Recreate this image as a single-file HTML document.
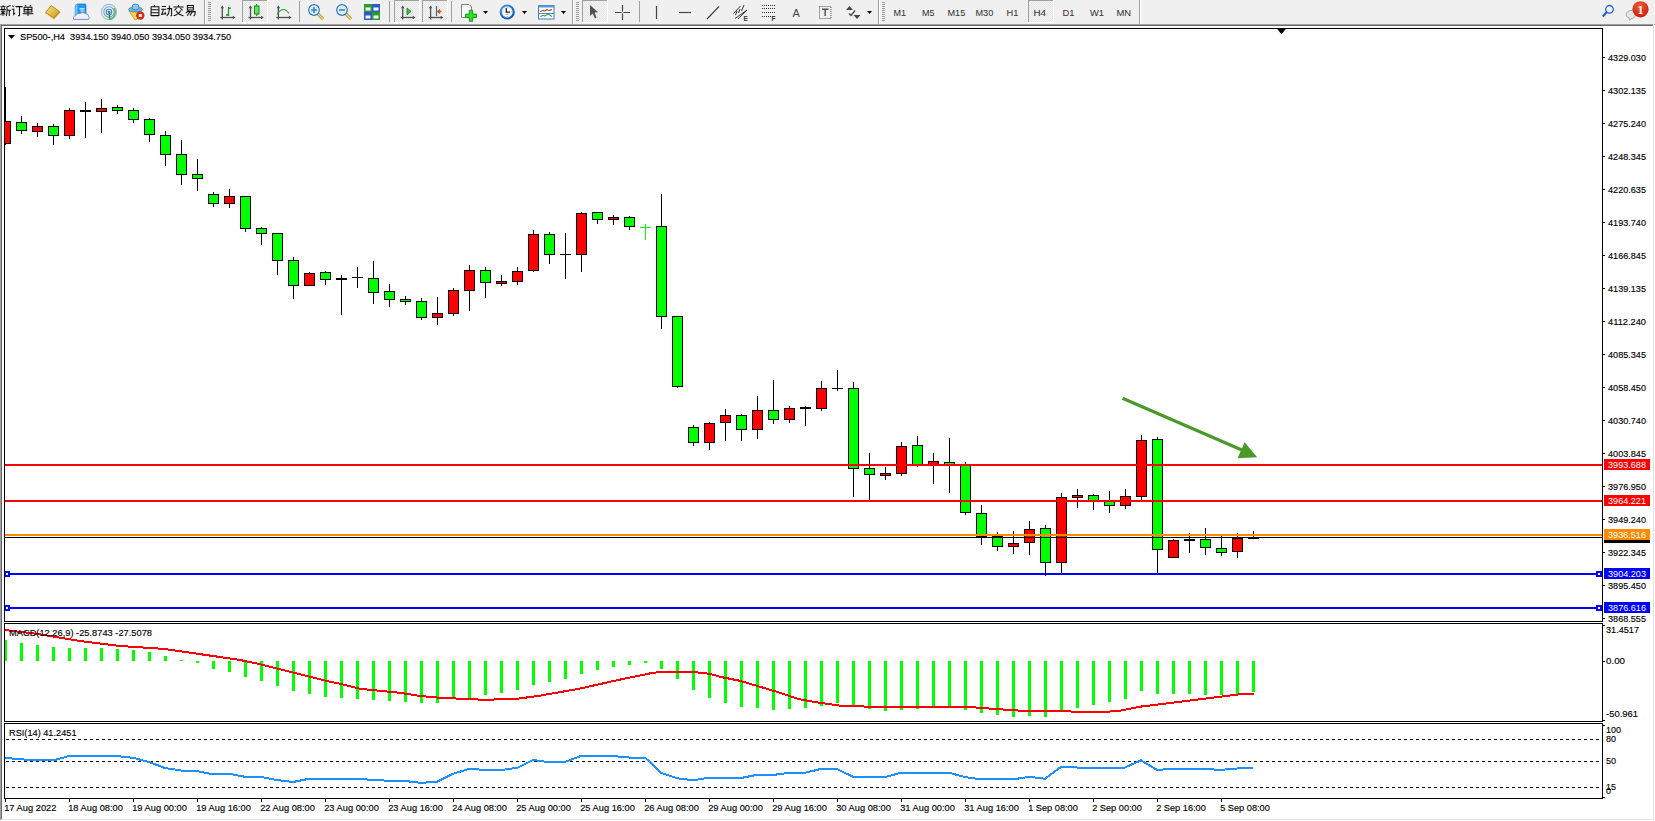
<!DOCTYPE html>
<html><head><meta charset="utf-8"><style>
html,body{margin:0;padding:0;width:1655px;height:821px;overflow:hidden;background:#f0f0f0;font-family:"Liberation Sans",sans-serif;}
#tb{position:absolute;left:0;top:0;width:1655px;height:24px;background:#f0f0f0;}
</style></head><body>
<svg width="1655" height="821" viewBox="0 0 1655 821" style="position:absolute;left:0;top:0" shape-rendering="crispEdges" font-family="Liberation Sans, sans-serif">
<defs><clipPath id="cm"><rect x="5" y="29" width="1597" height="592"/></clipPath><clipPath id="cmacd"><rect x="5" y="624" width="1597" height="97"/></clipPath><clipPath id="crsi"><rect x="5" y="724" width="1597" height="74"/></clipPath></defs>
<rect x="0" y="24" width="1655" height="797" fill="#fff"/>
<rect x="0" y="24" width="1655" height="1" fill="#a0a0a0"/><rect x="1" y="25" width="1652" height="1" fill="#696969"/>
<rect x="0" y="24" width="1" height="796" fill="#a0a0a0"/><rect x="1" y="25" width="1" height="794" fill="#696969"/>
<rect x="1653" y="24" width="1" height="796" fill="#e3e3e3"/><rect x="1" y="819" width="1653" height="1" fill="#e3e3e3"/>
<rect x="4.5" y="28.5" width="1598" height="593" fill="none" stroke="#000" stroke-width="1"/>
<rect x="4.5" y="623.5" width="1598" height="98" fill="none" stroke="#000" stroke-width="1"/>
<rect x="4.5" y="723.5" width="1598" height="75" fill="none" stroke="#000" stroke-width="1"/>
<rect x="1603" y="57" width="2" height="1" fill="#000"/>
<text x="1608" y="61" font-size="9.8" fill="#000" stroke="#000" stroke-width="0.15" text-anchor="start" textLength="38" lengthAdjust="spacingAndGlyphs">4329.030</text>
<rect x="1603" y="90" width="2" height="1" fill="#000"/>
<text x="1608" y="94" font-size="9.8" fill="#000" stroke="#000" stroke-width="0.15" text-anchor="start" textLength="38" lengthAdjust="spacingAndGlyphs">4302.135</text>
<rect x="1603" y="123" width="2" height="1" fill="#000"/>
<text x="1608" y="127" font-size="9.8" fill="#000" stroke="#000" stroke-width="0.15" text-anchor="start" textLength="38" lengthAdjust="spacingAndGlyphs">4275.240</text>
<rect x="1603" y="156" width="2" height="1" fill="#000"/>
<text x="1608" y="160" font-size="9.8" fill="#000" stroke="#000" stroke-width="0.15" text-anchor="start" textLength="38" lengthAdjust="spacingAndGlyphs">4248.345</text>
<rect x="1603" y="189" width="2" height="1" fill="#000"/>
<text x="1608" y="193" font-size="9.8" fill="#000" stroke="#000" stroke-width="0.15" text-anchor="start" textLength="38" lengthAdjust="spacingAndGlyphs">4220.635</text>
<rect x="1603" y="222" width="2" height="1" fill="#000"/>
<text x="1608" y="226" font-size="9.8" fill="#000" stroke="#000" stroke-width="0.15" text-anchor="start" textLength="38" lengthAdjust="spacingAndGlyphs">4193.740</text>
<rect x="1603" y="255" width="2" height="1" fill="#000"/>
<text x="1608" y="259" font-size="9.8" fill="#000" stroke="#000" stroke-width="0.15" text-anchor="start" textLength="38" lengthAdjust="spacingAndGlyphs">4166.845</text>
<rect x="1603" y="288" width="2" height="1" fill="#000"/>
<text x="1608" y="292" font-size="9.8" fill="#000" stroke="#000" stroke-width="0.15" text-anchor="start" textLength="38" lengthAdjust="spacingAndGlyphs">4139.135</text>
<rect x="1603" y="321" width="2" height="1" fill="#000"/>
<text x="1608" y="325" font-size="9.8" fill="#000" stroke="#000" stroke-width="0.15" text-anchor="start" textLength="38" lengthAdjust="spacingAndGlyphs">4112.240</text>
<rect x="1603" y="354" width="2" height="1" fill="#000"/>
<text x="1608" y="358" font-size="9.8" fill="#000" stroke="#000" stroke-width="0.15" text-anchor="start" textLength="38" lengthAdjust="spacingAndGlyphs">4085.345</text>
<rect x="1603" y="387" width="2" height="1" fill="#000"/>
<text x="1608" y="391" font-size="9.8" fill="#000" stroke="#000" stroke-width="0.15" text-anchor="start" textLength="38" lengthAdjust="spacingAndGlyphs">4058.450</text>
<rect x="1603" y="420" width="2" height="1" fill="#000"/>
<text x="1608" y="424" font-size="9.8" fill="#000" stroke="#000" stroke-width="0.15" text-anchor="start" textLength="38" lengthAdjust="spacingAndGlyphs">4030.740</text>
<rect x="1603" y="453" width="2" height="1" fill="#000"/>
<text x="1608" y="457" font-size="9.8" fill="#000" stroke="#000" stroke-width="0.15" text-anchor="start" textLength="38" lengthAdjust="spacingAndGlyphs">4003.845</text>
<rect x="1603" y="486" width="2" height="1" fill="#000"/>
<text x="1608" y="490" font-size="9.8" fill="#000" stroke="#000" stroke-width="0.15" text-anchor="start" textLength="38" lengthAdjust="spacingAndGlyphs">3976.950</text>
<rect x="1603" y="519" width="2" height="1" fill="#000"/>
<text x="1608" y="523" font-size="9.8" fill="#000" stroke="#000" stroke-width="0.15" text-anchor="start" textLength="38" lengthAdjust="spacingAndGlyphs">3949.240</text>
<rect x="1603" y="552" width="2" height="1" fill="#000"/>
<text x="1608" y="556" font-size="9.8" fill="#000" stroke="#000" stroke-width="0.15" text-anchor="start" textLength="38" lengthAdjust="spacingAndGlyphs">3922.345</text>
<rect x="1603" y="585" width="2" height="1" fill="#000"/>
<text x="1608" y="589" font-size="9.8" fill="#000" stroke="#000" stroke-width="0.15" text-anchor="start" textLength="38" lengthAdjust="spacingAndGlyphs">3895.450</text>
<rect x="1603" y="618" width="2" height="1" fill="#000"/>
<text x="1608" y="622" font-size="9.8" fill="#000" stroke="#000" stroke-width="0.15" text-anchor="start" textLength="38" lengthAdjust="spacingAndGlyphs">3868.555</text>
<rect x="1603" y="625" width="2" height="1" fill="#000"/>
<rect x="1603" y="661" width="2" height="1" fill="#000"/>
<rect x="1603" y="720" width="2" height="1" fill="#000"/>
<text x="1606" y="633.2" font-size="9.8" fill="#000" stroke="#000" stroke-width="0.15" text-anchor="start" textLength="33" lengthAdjust="spacingAndGlyphs">31.4517</text>
<text x="1606" y="664.2" font-size="9.8" fill="#000" stroke="#000" stroke-width="0.15" text-anchor="start" textLength="19" lengthAdjust="spacingAndGlyphs">0.00</text>
<text x="1606" y="717.2" font-size="9.8" fill="#000" stroke="#000" stroke-width="0.15" text-anchor="start" textLength="32" lengthAdjust="spacingAndGlyphs">-50.961</text>
<rect x="1603" y="725" width="2" height="1" fill="#000"/>
<rect x="1603" y="797" width="2" height="1" fill="#000"/>
<rect x="1596" y="739" width="3" height="1" fill="#000"/>
<rect x="1596" y="761" width="3" height="1" fill="#000"/>
<rect x="1596" y="787" width="3" height="1" fill="#000"/>
<text x="1606" y="733.2" font-size="9.8" fill="#000" stroke="#000" stroke-width="0.15" text-anchor="start" textLength="15" lengthAdjust="spacingAndGlyphs">100</text>
<text x="1606" y="742.2" font-size="9.8" fill="#000" stroke="#000" stroke-width="0.15" text-anchor="start" textLength="10" lengthAdjust="spacingAndGlyphs">80</text>
<text x="1606" y="764.2" font-size="9.8" fill="#000" stroke="#000" stroke-width="0.15" text-anchor="start" textLength="10" lengthAdjust="spacingAndGlyphs">50</text>
<text x="1606" y="790.2" font-size="9.8" fill="#000" stroke="#000" stroke-width="0.15" text-anchor="start" textLength="10" lengthAdjust="spacingAndGlyphs">15</text>
<text x="1606" y="794.2" font-size="9.8" fill="#000" stroke="#000" stroke-width="0.15" text-anchor="start" textLength="5" lengthAdjust="spacingAndGlyphs">0</text>
<rect x="5" y="799" width="1" height="3" fill="#000"/>
<text x="4.2" y="811" font-size="9.8" fill="#000" stroke="#000" stroke-width="0.15" text-anchor="start" textLength="52.2" lengthAdjust="spacingAndGlyphs">17 Aug 2022</text>
<rect x="69" y="799" width="1" height="3" fill="#000"/>
<text x="68.2" y="811" font-size="9.8" fill="#000" stroke="#000" stroke-width="0.15" text-anchor="start" textLength="54.7" lengthAdjust="spacingAndGlyphs">18 Aug 08:00</text>
<rect x="133" y="799" width="1" height="3" fill="#000"/>
<text x="132.2" y="811" font-size="9.8" fill="#000" stroke="#000" stroke-width="0.15" text-anchor="start" textLength="54.7" lengthAdjust="spacingAndGlyphs">19 Aug 00:00</text>
<rect x="197" y="799" width="1" height="3" fill="#000"/>
<text x="196.2" y="811" font-size="9.8" fill="#000" stroke="#000" stroke-width="0.15" text-anchor="start" textLength="54.7" lengthAdjust="spacingAndGlyphs">19 Aug 16:00</text>
<rect x="261" y="799" width="1" height="3" fill="#000"/>
<text x="260.2" y="811" font-size="9.8" fill="#000" stroke="#000" stroke-width="0.15" text-anchor="start" textLength="54.7" lengthAdjust="spacingAndGlyphs">22 Aug 08:00</text>
<rect x="325" y="799" width="1" height="3" fill="#000"/>
<text x="324.2" y="811" font-size="9.8" fill="#000" stroke="#000" stroke-width="0.15" text-anchor="start" textLength="54.7" lengthAdjust="spacingAndGlyphs">23 Aug 00:00</text>
<rect x="389" y="799" width="1" height="3" fill="#000"/>
<text x="388.2" y="811" font-size="9.8" fill="#000" stroke="#000" stroke-width="0.15" text-anchor="start" textLength="54.7" lengthAdjust="spacingAndGlyphs">23 Aug 16:00</text>
<rect x="453" y="799" width="1" height="3" fill="#000"/>
<text x="452.2" y="811" font-size="9.8" fill="#000" stroke="#000" stroke-width="0.15" text-anchor="start" textLength="54.7" lengthAdjust="spacingAndGlyphs">24 Aug 08:00</text>
<rect x="517" y="799" width="1" height="3" fill="#000"/>
<text x="516.2" y="811" font-size="9.8" fill="#000" stroke="#000" stroke-width="0.15" text-anchor="start" textLength="54.7" lengthAdjust="spacingAndGlyphs">25 Aug 00:00</text>
<rect x="581" y="799" width="1" height="3" fill="#000"/>
<text x="580.2" y="811" font-size="9.8" fill="#000" stroke="#000" stroke-width="0.15" text-anchor="start" textLength="54.7" lengthAdjust="spacingAndGlyphs">25 Aug 16:00</text>
<rect x="645" y="799" width="1" height="3" fill="#000"/>
<text x="644.2" y="811" font-size="9.8" fill="#000" stroke="#000" stroke-width="0.15" text-anchor="start" textLength="54.7" lengthAdjust="spacingAndGlyphs">26 Aug 08:00</text>
<rect x="709" y="799" width="1" height="3" fill="#000"/>
<text x="708.2" y="811" font-size="9.8" fill="#000" stroke="#000" stroke-width="0.15" text-anchor="start" textLength="54.7" lengthAdjust="spacingAndGlyphs">29 Aug 00:00</text>
<rect x="773" y="799" width="1" height="3" fill="#000"/>
<text x="772.2" y="811" font-size="9.8" fill="#000" stroke="#000" stroke-width="0.15" text-anchor="start" textLength="54.7" lengthAdjust="spacingAndGlyphs">29 Aug 16:00</text>
<rect x="837" y="799" width="1" height="3" fill="#000"/>
<text x="836.2" y="811" font-size="9.8" fill="#000" stroke="#000" stroke-width="0.15" text-anchor="start" textLength="54.7" lengthAdjust="spacingAndGlyphs">30 Aug 08:00</text>
<rect x="901" y="799" width="1" height="3" fill="#000"/>
<text x="900.2" y="811" font-size="9.8" fill="#000" stroke="#000" stroke-width="0.15" text-anchor="start" textLength="54.7" lengthAdjust="spacingAndGlyphs">31 Aug 00:00</text>
<rect x="965" y="799" width="1" height="3" fill="#000"/>
<text x="964.2" y="811" font-size="9.8" fill="#000" stroke="#000" stroke-width="0.15" text-anchor="start" textLength="54.7" lengthAdjust="spacingAndGlyphs">31 Aug 16:00</text>
<rect x="1029" y="799" width="1" height="3" fill="#000"/>
<text x="1028.2" y="811" font-size="9.8" fill="#000" stroke="#000" stroke-width="0.15" text-anchor="start" textLength="49.6" lengthAdjust="spacingAndGlyphs">1 Sep 08:00</text>
<rect x="1093" y="799" width="1" height="3" fill="#000"/>
<text x="1092.2" y="811" font-size="9.8" fill="#000" stroke="#000" stroke-width="0.15" text-anchor="start" textLength="49.6" lengthAdjust="spacingAndGlyphs">2 Sep 00:00</text>
<rect x="1157" y="799" width="1" height="3" fill="#000"/>
<text x="1156.2" y="811" font-size="9.8" fill="#000" stroke="#000" stroke-width="0.15" text-anchor="start" textLength="49.6" lengthAdjust="spacingAndGlyphs">2 Sep 16:00</text>
<rect x="1221" y="799" width="1" height="3" fill="#000"/>
<text x="1220.2" y="811" font-size="9.8" fill="#000" stroke="#000" stroke-width="0.15" text-anchor="start" textLength="49.6" lengthAdjust="spacingAndGlyphs">5 Sep 08:00</text>
<g clip-path="url(#cm)">
<rect x="5" y="87" width="1" height="58" fill="#000"/>
<rect x="0" y="121" width="11" height="23" fill="#000"/>
<rect x="1" y="122" width="9" height="21" fill="#ff0000"/>
<rect x="21" y="116" width="1" height="18" fill="#000"/>
<rect x="16" y="122" width="11" height="9" fill="#000"/>
<rect x="17" y="123" width="9" height="7" fill="#00ff00"/>
<rect x="37" y="123" width="1" height="14" fill="#000"/>
<rect x="32" y="126" width="11" height="6" fill="#000"/>
<rect x="33" y="127" width="9" height="4" fill="#ff0000"/>
<rect x="53" y="124" width="1" height="21" fill="#000"/>
<rect x="48" y="126" width="11" height="10" fill="#000"/>
<rect x="49" y="127" width="9" height="8" fill="#00ff00"/>
<rect x="69" y="108" width="1" height="31" fill="#000"/>
<rect x="64" y="110" width="11" height="26" fill="#000"/>
<rect x="65" y="111" width="9" height="24" fill="#ff0000"/>
<rect x="85" y="102" width="1" height="36" fill="#000"/>
<rect x="80" y="110" width="11" height="2" fill="#000"/>
<rect x="101" y="99" width="1" height="34" fill="#000"/>
<rect x="96" y="108" width="11" height="4" fill="#000"/>
<rect x="97" y="109" width="9" height="2" fill="#ff0000"/>
<rect x="117" y="105" width="1" height="9" fill="#000"/>
<rect x="112" y="107" width="11" height="4" fill="#000"/>
<rect x="113" y="108" width="9" height="2" fill="#00ff00"/>
<rect x="133" y="108" width="1" height="15" fill="#000"/>
<rect x="128" y="110" width="11" height="10" fill="#000"/>
<rect x="129" y="111" width="9" height="8" fill="#00ff00"/>
<rect x="149" y="118" width="1" height="24" fill="#000"/>
<rect x="144" y="119" width="11" height="16" fill="#000"/>
<rect x="145" y="120" width="9" height="14" fill="#00ff00"/>
<rect x="165" y="131" width="1" height="35" fill="#000"/>
<rect x="160" y="135" width="11" height="20" fill="#000"/>
<rect x="161" y="136" width="9" height="18" fill="#00ff00"/>
<rect x="181" y="140" width="1" height="45" fill="#000"/>
<rect x="176" y="154" width="11" height="21" fill="#000"/>
<rect x="177" y="155" width="9" height="19" fill="#00ff00"/>
<rect x="197" y="159" width="1" height="32" fill="#000"/>
<rect x="192" y="174" width="11" height="5" fill="#000"/>
<rect x="193" y="175" width="9" height="3" fill="#00ff00"/>
<rect x="213" y="192" width="1" height="15" fill="#000"/>
<rect x="208" y="194" width="11" height="10" fill="#000"/>
<rect x="209" y="195" width="9" height="8" fill="#00ff00"/>
<rect x="229" y="189" width="1" height="19" fill="#000"/>
<rect x="224" y="196" width="11" height="8" fill="#000"/>
<rect x="225" y="197" width="9" height="6" fill="#ff0000"/>
<rect x="245" y="196" width="1" height="36" fill="#000"/>
<rect x="240" y="196" width="11" height="33" fill="#000"/>
<rect x="241" y="197" width="9" height="31" fill="#00ff00"/>
<rect x="261" y="227" width="1" height="18" fill="#000"/>
<rect x="256" y="228" width="11" height="6" fill="#000"/>
<rect x="257" y="229" width="9" height="4" fill="#00ff00"/>
<rect x="277" y="233" width="1" height="42" fill="#000"/>
<rect x="272" y="233" width="11" height="28" fill="#000"/>
<rect x="273" y="234" width="9" height="26" fill="#00ff00"/>
<rect x="293" y="257" width="1" height="42" fill="#000"/>
<rect x="288" y="260" width="11" height="26" fill="#000"/>
<rect x="289" y="261" width="9" height="24" fill="#00ff00"/>
<rect x="309" y="272" width="1" height="14" fill="#000"/>
<rect x="304" y="273" width="11" height="13" fill="#000"/>
<rect x="305" y="274" width="9" height="11" fill="#ff0000"/>
<rect x="325" y="271" width="1" height="14" fill="#000"/>
<rect x="320" y="272" width="11" height="8" fill="#000"/>
<rect x="321" y="273" width="9" height="6" fill="#00ff00"/>
<rect x="341" y="275" width="1" height="40" fill="#000"/>
<rect x="336" y="278" width="11" height="2" fill="#000"/>
<rect x="357" y="267" width="1" height="21" fill="#000"/>
<rect x="352" y="277" width="11" height="1" fill="#000"/>
<rect x="373" y="261" width="1" height="43" fill="#000"/>
<rect x="368" y="278" width="11" height="15" fill="#000"/>
<rect x="369" y="279" width="9" height="13" fill="#00ff00"/>
<rect x="389" y="284" width="1" height="23" fill="#000"/>
<rect x="384" y="291" width="11" height="9" fill="#000"/>
<rect x="385" y="292" width="9" height="7" fill="#00ff00"/>
<rect x="405" y="296" width="1" height="9" fill="#000"/>
<rect x="400" y="299" width="11" height="3" fill="#000"/>
<rect x="401" y="300" width="9" height="1" fill="#00ff00"/>
<rect x="421" y="298" width="1" height="22" fill="#000"/>
<rect x="416" y="301" width="11" height="17" fill="#000"/>
<rect x="417" y="302" width="9" height="15" fill="#00ff00"/>
<rect x="437" y="297" width="1" height="28" fill="#000"/>
<rect x="432" y="313" width="11" height="5" fill="#000"/>
<rect x="433" y="314" width="9" height="3" fill="#ff0000"/>
<rect x="453" y="288" width="1" height="28" fill="#000"/>
<rect x="448" y="290" width="11" height="24" fill="#000"/>
<rect x="449" y="291" width="9" height="22" fill="#ff0000"/>
<rect x="469" y="265" width="1" height="46" fill="#000"/>
<rect x="464" y="270" width="11" height="21" fill="#000"/>
<rect x="465" y="271" width="9" height="19" fill="#ff0000"/>
<rect x="485" y="267" width="1" height="31" fill="#000"/>
<rect x="480" y="270" width="11" height="13" fill="#000"/>
<rect x="481" y="271" width="9" height="11" fill="#00ff00"/>
<rect x="501" y="275" width="1" height="11" fill="#000"/>
<rect x="496" y="281" width="11" height="3" fill="#000"/>
<rect x="497" y="282" width="9" height="1" fill="#ff0000"/>
<rect x="517" y="267" width="1" height="18" fill="#000"/>
<rect x="512" y="271" width="11" height="11" fill="#000"/>
<rect x="513" y="272" width="9" height="9" fill="#ff0000"/>
<rect x="533" y="230" width="1" height="42" fill="#000"/>
<rect x="528" y="234" width="11" height="37" fill="#000"/>
<rect x="529" y="235" width="9" height="35" fill="#ff0000"/>
<rect x="549" y="232" width="1" height="32" fill="#000"/>
<rect x="544" y="234" width="11" height="21" fill="#000"/>
<rect x="545" y="235" width="9" height="19" fill="#00ff00"/>
<rect x="565" y="233" width="1" height="46" fill="#000"/>
<rect x="560" y="254" width="11" height="1" fill="#000"/>
<rect x="581" y="212" width="1" height="60" fill="#000"/>
<rect x="576" y="213" width="11" height="42" fill="#000"/>
<rect x="577" y="214" width="9" height="40" fill="#ff0000"/>
<rect x="597" y="212" width="1" height="12" fill="#000"/>
<rect x="592" y="212" width="11" height="8" fill="#000"/>
<rect x="593" y="213" width="9" height="6" fill="#00ff00"/>
<rect x="613" y="215" width="1" height="10" fill="#000"/>
<rect x="608" y="217" width="11" height="3" fill="#000"/>
<rect x="609" y="218" width="9" height="1" fill="#ff0000"/>
<rect x="629" y="216" width="1" height="14" fill="#000"/>
<rect x="624" y="217" width="11" height="10" fill="#000"/>
<rect x="625" y="218" width="9" height="8" fill="#00ff00"/>
<rect x="645" y="224" width="1" height="16" fill="#00ff00"/>
<rect x="640" y="227" width="11" height="1" fill="#00ff00"/>
<rect x="661" y="194" width="1" height="135" fill="#000"/>
<rect x="656" y="226" width="11" height="91" fill="#000"/>
<rect x="657" y="227" width="9" height="89" fill="#00ff00"/>
<rect x="677" y="316" width="1" height="72" fill="#000"/>
<rect x="672" y="316" width="11" height="71" fill="#000"/>
<rect x="673" y="317" width="9" height="69" fill="#00ff00"/>
<rect x="693" y="425" width="1" height="21" fill="#000"/>
<rect x="688" y="427" width="11" height="16" fill="#000"/>
<rect x="689" y="428" width="9" height="14" fill="#00ff00"/>
<rect x="709" y="422" width="1" height="28" fill="#000"/>
<rect x="704" y="423" width="11" height="20" fill="#000"/>
<rect x="705" y="424" width="9" height="18" fill="#ff0000"/>
<rect x="725" y="409" width="1" height="32" fill="#000"/>
<rect x="720" y="415" width="11" height="8" fill="#000"/>
<rect x="721" y="416" width="9" height="6" fill="#ff0000"/>
<rect x="741" y="414" width="1" height="27" fill="#000"/>
<rect x="736" y="415" width="11" height="15" fill="#000"/>
<rect x="737" y="416" width="9" height="13" fill="#00ff00"/>
<rect x="757" y="396" width="1" height="43" fill="#000"/>
<rect x="752" y="410" width="11" height="20" fill="#000"/>
<rect x="753" y="411" width="9" height="18" fill="#ff0000"/>
<rect x="773" y="380" width="1" height="44" fill="#000"/>
<rect x="768" y="410" width="11" height="10" fill="#000"/>
<rect x="769" y="411" width="9" height="8" fill="#00ff00"/>
<rect x="789" y="406" width="1" height="17" fill="#000"/>
<rect x="784" y="408" width="11" height="12" fill="#000"/>
<rect x="785" y="409" width="9" height="10" fill="#ff0000"/>
<rect x="805" y="406" width="1" height="20" fill="#000"/>
<rect x="800" y="407" width="11" height="2" fill="#000"/>
<rect x="821" y="381" width="1" height="30" fill="#000"/>
<rect x="816" y="388" width="11" height="21" fill="#000"/>
<rect x="817" y="389" width="9" height="19" fill="#ff0000"/>
<rect x="837" y="370" width="1" height="21" fill="#000"/>
<rect x="832" y="388" width="11" height="1" fill="#000"/>
<rect x="853" y="382" width="1" height="115" fill="#000"/>
<rect x="848" y="388" width="11" height="81" fill="#000"/>
<rect x="849" y="389" width="9" height="79" fill="#00ff00"/>
<rect x="869" y="453" width="1" height="47" fill="#000"/>
<rect x="864" y="468" width="11" height="7" fill="#000"/>
<rect x="865" y="469" width="9" height="5" fill="#00ff00"/>
<rect x="885" y="467" width="1" height="13" fill="#000"/>
<rect x="880" y="473" width="11" height="3" fill="#000"/>
<rect x="881" y="474" width="9" height="1" fill="#ff0000"/>
<rect x="901" y="442" width="1" height="34" fill="#000"/>
<rect x="896" y="446" width="11" height="28" fill="#000"/>
<rect x="897" y="447" width="9" height="26" fill="#ff0000"/>
<rect x="917" y="436" width="1" height="31" fill="#000"/>
<rect x="912" y="445" width="11" height="20" fill="#000"/>
<rect x="913" y="446" width="9" height="18" fill="#00ff00"/>
<rect x="933" y="453" width="1" height="31" fill="#000"/>
<rect x="928" y="461" width="11" height="5" fill="#000"/>
<rect x="929" y="462" width="9" height="3" fill="#ff0000"/>
<rect x="949" y="438" width="1" height="55" fill="#000"/>
<rect x="944" y="462" width="11" height="3" fill="#000"/>
<rect x="945" y="463" width="9" height="1" fill="#00ff00"/>
<rect x="965" y="462" width="1" height="53" fill="#000"/>
<rect x="960" y="464" width="11" height="49" fill="#000"/>
<rect x="961" y="465" width="9" height="47" fill="#00ff00"/>
<rect x="981" y="505" width="1" height="40" fill="#000"/>
<rect x="976" y="513" width="11" height="24" fill="#000"/>
<rect x="977" y="514" width="9" height="22" fill="#00ff00"/>
<rect x="997" y="532" width="1" height="19" fill="#000"/>
<rect x="992" y="536" width="11" height="11" fill="#000"/>
<rect x="993" y="537" width="9" height="9" fill="#00ff00"/>
<rect x="1013" y="531" width="1" height="23" fill="#000"/>
<rect x="1008" y="543" width="11" height="4" fill="#000"/>
<rect x="1009" y="544" width="9" height="2" fill="#ff0000"/>
<rect x="1029" y="521" width="1" height="34" fill="#000"/>
<rect x="1024" y="529" width="11" height="14" fill="#000"/>
<rect x="1025" y="530" width="9" height="12" fill="#ff0000"/>
<rect x="1045" y="525" width="1" height="51" fill="#000"/>
<rect x="1040" y="528" width="11" height="35" fill="#000"/>
<rect x="1041" y="529" width="9" height="33" fill="#00ff00"/>
<rect x="1061" y="493" width="1" height="81" fill="#000"/>
<rect x="1056" y="497" width="11" height="66" fill="#000"/>
<rect x="1057" y="498" width="9" height="64" fill="#ff0000"/>
<rect x="1077" y="489" width="1" height="19" fill="#000"/>
<rect x="1072" y="495" width="11" height="3" fill="#000"/>
<rect x="1073" y="496" width="9" height="1" fill="#ff0000"/>
<rect x="1093" y="494" width="1" height="16" fill="#000"/>
<rect x="1088" y="495" width="11" height="6" fill="#000"/>
<rect x="1089" y="496" width="9" height="4" fill="#00ff00"/>
<rect x="1109" y="491" width="1" height="22" fill="#000"/>
<rect x="1104" y="501" width="11" height="5" fill="#000"/>
<rect x="1105" y="502" width="9" height="3" fill="#00ff00"/>
<rect x="1125" y="489" width="1" height="20" fill="#000"/>
<rect x="1120" y="496" width="11" height="10" fill="#000"/>
<rect x="1121" y="497" width="9" height="8" fill="#ff0000"/>
<rect x="1141" y="435" width="1" height="65" fill="#000"/>
<rect x="1136" y="440" width="11" height="57" fill="#000"/>
<rect x="1137" y="441" width="9" height="55" fill="#ff0000"/>
<rect x="1157" y="437" width="1" height="137" fill="#000"/>
<rect x="1152" y="439" width="11" height="111" fill="#000"/>
<rect x="1153" y="440" width="9" height="109" fill="#00ff00"/>
<rect x="1173" y="539" width="1" height="19" fill="#000"/>
<rect x="1168" y="540" width="11" height="18" fill="#000"/>
<rect x="1169" y="541" width="9" height="16" fill="#ff0000"/>
<rect x="1189" y="533" width="1" height="20" fill="#000"/>
<rect x="1184" y="539" width="11" height="2" fill="#000"/>
<rect x="1205" y="528" width="1" height="27" fill="#000"/>
<rect x="1200" y="539" width="11" height="9" fill="#000"/>
<rect x="1201" y="540" width="9" height="7" fill="#00ff00"/>
<rect x="1221" y="536" width="1" height="20" fill="#000"/>
<rect x="1216" y="548" width="11" height="5" fill="#000"/>
<rect x="1217" y="549" width="9" height="3" fill="#00ff00"/>
<rect x="1237" y="533" width="1" height="25" fill="#000"/>
<rect x="1232" y="538" width="11" height="14" fill="#000"/>
<rect x="1233" y="539" width="9" height="12" fill="#ff0000"/>
<rect x="1253" y="531" width="1" height="8" fill="#000"/>
<rect x="1248" y="538" width="11" height="1" fill="#000"/>
</g>
<rect x="5" y="464" width="1597" height="2" fill="#ff0000"/>
<rect x="5" y="500" width="1597" height="2" fill="#ff0000"/>
<rect x="5" y="537" width="1597" height="1" fill="#000"/>
<rect x="5" y="534" width="1597" height="2" fill="#ff8c00"/>
<rect x="5" y="573" width="1597" height="2" fill="#0000ff"/>
<rect x="5" y="607" width="1597" height="2" fill="#0000ff"/>
<rect x="5" y="571" width="5" height="6" fill="#0000ff"/><rect x="6" y="573" width="2" height="2" fill="#fff"/>
<rect x="1596" y="571" width="6" height="6" fill="#0000ff"/><rect x="1598" y="573" width="2" height="2" fill="#fff"/>
<rect x="5" y="605" width="5" height="6" fill="#0000ff"/><rect x="6" y="607" width="2" height="2" fill="#fff"/>
<rect x="1596" y="605" width="6" height="6" fill="#0000ff"/><rect x="1598" y="607" width="2" height="2" fill="#fff"/>
<rect x="1604" y="532" width="46" height="11" fill="#000"/>
<rect x="1604" y="459" width="46" height="11" fill="#ff0000"/>
<text x="1608" y="467.5" font-size="9.8" fill="#fff" text-anchor="start" textLength="38" lengthAdjust="spacingAndGlyphs">3993.688</text>
<rect x="1604" y="495" width="46" height="11" fill="#ff0000"/>
<text x="1608" y="503.5" font-size="9.8" fill="#fff" text-anchor="start" textLength="38" lengthAdjust="spacingAndGlyphs">3964.221</text>
<rect x="1604" y="529" width="46" height="11" fill="#ff8c00"/>
<text x="1608" y="537.5" font-size="9.8" fill="#fff" text-anchor="start" textLength="38" lengthAdjust="spacingAndGlyphs">3936.516</text>
<rect x="1604" y="568" width="46" height="11" fill="#0000ff"/>
<text x="1608" y="576.5" font-size="9.8" fill="#fff" text-anchor="start" textLength="38" lengthAdjust="spacingAndGlyphs">3904.203</text>
<rect x="1604" y="602" width="46" height="11" fill="#0000ff"/>
<text x="1608" y="610.5" font-size="9.8" fill="#fff" text-anchor="start" textLength="38" lengthAdjust="spacingAndGlyphs">3876.616</text>
<g shape-rendering="auto"><line x1="1122.5" y1="398.2" x2="1243" y2="450.5" stroke="#4a9a2a" stroke-width="3.2"/><polygon points="1257.2,457.2 1237.6,458.2 1244.6,442.2" fill="#4a9a2a"/></g>
<polygon points="8,35 15,35 11.5,39" fill="#000" shape-rendering="auto"/>
<text x="20" y="40" font-size="9.8" fill="#000" stroke="#000" stroke-width="0.15" text-anchor="start" textLength="211.2" lengthAdjust="spacingAndGlyphs">SP500-,H4&#160;&#160;3934.150 3940.050 3934.050 3934.750</text>
<polygon points="1276.8,28.5 1286.2,28.5 1281.5,34.2" fill="#000" shape-rendering="auto"/>
<g clip-path="url(#cmacd)">
<rect x="4" y="640" width="3" height="21" fill="#00ff00"/>
<rect x="20" y="643" width="3" height="18" fill="#00ff00"/>
<rect x="36" y="645" width="3" height="16" fill="#00ff00"/>
<rect x="52" y="647" width="3" height="14" fill="#00ff00"/>
<rect x="68" y="648" width="3" height="13" fill="#00ff00"/>
<rect x="84" y="648" width="3" height="13" fill="#00ff00"/>
<rect x="100" y="648" width="3" height="13" fill="#00ff00"/>
<rect x="116" y="649" width="3" height="12" fill="#00ff00"/>
<rect x="132" y="650" width="3" height="11" fill="#00ff00"/>
<rect x="148" y="652" width="3" height="9" fill="#00ff00"/>
<rect x="164" y="656" width="3" height="5" fill="#00ff00"/>
<rect x="180" y="660" width="3" height="1" fill="#00ff00"/>
<rect x="196" y="661" width="3" height="2" fill="#00ff00"/>
<rect x="212" y="661" width="3" height="8" fill="#00ff00"/>
<rect x="228" y="661" width="3" height="11" fill="#00ff00"/>
<rect x="244" y="661" width="3" height="16" fill="#00ff00"/>
<rect x="260" y="661" width="3" height="20" fill="#00ff00"/>
<rect x="276" y="661" width="3" height="25" fill="#00ff00"/>
<rect x="292" y="661" width="3" height="30" fill="#00ff00"/>
<rect x="308" y="661" width="3" height="33" fill="#00ff00"/>
<rect x="324" y="661" width="3" height="36" fill="#00ff00"/>
<rect x="340" y="661" width="3" height="37" fill="#00ff00"/>
<rect x="356" y="661" width="3" height="38" fill="#00ff00"/>
<rect x="372" y="661" width="3" height="39" fill="#00ff00"/>
<rect x="388" y="661" width="3" height="40" fill="#00ff00"/>
<rect x="404" y="661" width="3" height="41" fill="#00ff00"/>
<rect x="420" y="661" width="3" height="42" fill="#00ff00"/>
<rect x="436" y="661" width="3" height="42" fill="#00ff00"/>
<rect x="452" y="661" width="3" height="38" fill="#00ff00"/>
<rect x="468" y="661" width="3" height="37" fill="#00ff00"/>
<rect x="484" y="661" width="3" height="34" fill="#00ff00"/>
<rect x="500" y="661" width="3" height="32" fill="#00ff00"/>
<rect x="516" y="661" width="3" height="29" fill="#00ff00"/>
<rect x="532" y="661" width="3" height="24" fill="#00ff00"/>
<rect x="548" y="661" width="3" height="21" fill="#00ff00"/>
<rect x="564" y="661" width="3" height="18" fill="#00ff00"/>
<rect x="580" y="661" width="3" height="13" fill="#00ff00"/>
<rect x="596" y="661" width="3" height="9" fill="#00ff00"/>
<rect x="612" y="661" width="3" height="6" fill="#00ff00"/>
<rect x="628" y="661" width="3" height="4" fill="#00ff00"/>
<rect x="644" y="661" width="3" height="2" fill="#00ff00"/>
<rect x="660" y="661" width="3" height="8" fill="#00ff00"/>
<rect x="676" y="661" width="3" height="18" fill="#00ff00"/>
<rect x="692" y="661" width="3" height="29" fill="#00ff00"/>
<rect x="708" y="661" width="3" height="37" fill="#00ff00"/>
<rect x="724" y="661" width="3" height="42" fill="#00ff00"/>
<rect x="740" y="661" width="3" height="46" fill="#00ff00"/>
<rect x="756" y="661" width="3" height="47" fill="#00ff00"/>
<rect x="772" y="661" width="3" height="49" fill="#00ff00"/>
<rect x="788" y="661" width="3" height="48" fill="#00ff00"/>
<rect x="804" y="661" width="3" height="47" fill="#00ff00"/>
<rect x="820" y="661" width="3" height="45" fill="#00ff00"/>
<rect x="836" y="661" width="3" height="42" fill="#00ff00"/>
<rect x="852" y="661" width="3" height="45" fill="#00ff00"/>
<rect x="868" y="661" width="3" height="48" fill="#00ff00"/>
<rect x="884" y="661" width="3" height="50" fill="#00ff00"/>
<rect x="900" y="661" width="3" height="49" fill="#00ff00"/>
<rect x="916" y="661" width="3" height="48" fill="#00ff00"/>
<rect x="932" y="661" width="3" height="46" fill="#00ff00"/>
<rect x="948" y="661" width="3" height="46" fill="#00ff00"/>
<rect x="964" y="661" width="3" height="49" fill="#00ff00"/>
<rect x="980" y="661" width="3" height="52" fill="#00ff00"/>
<rect x="996" y="661" width="3" height="54" fill="#00ff00"/>
<rect x="1012" y="661" width="3" height="56" fill="#00ff00"/>
<rect x="1028" y="661" width="3" height="55" fill="#00ff00"/>
<rect x="1044" y="661" width="3" height="56" fill="#00ff00"/>
<rect x="1060" y="661" width="3" height="50" fill="#00ff00"/>
<rect x="1076" y="661" width="3" height="47" fill="#00ff00"/>
<rect x="1092" y="661" width="3" height="44" fill="#00ff00"/>
<rect x="1108" y="661" width="3" height="41" fill="#00ff00"/>
<rect x="1124" y="661" width="3" height="38" fill="#00ff00"/>
<rect x="1140" y="661" width="3" height="30" fill="#00ff00"/>
<rect x="1156" y="661" width="3" height="33" fill="#00ff00"/>
<rect x="1172" y="661" width="3" height="33" fill="#00ff00"/>
<rect x="1188" y="661" width="3" height="33" fill="#00ff00"/>
<rect x="1204" y="661" width="3" height="34" fill="#00ff00"/>
<rect x="1220" y="661" width="3" height="34" fill="#00ff00"/>
<rect x="1236" y="661" width="3" height="33" fill="#00ff00"/>
<rect x="1252" y="661" width="3" height="31" fill="#00ff00"/>
<polyline points="5,630 38,634 80,641 120,646 150,648 165,649 190,652.7 213,656 240,660 259,664 327,681 340,683.8 360,688.8 400,692.8 420,696 440,697.8 485,699.8 517,698.8 539,695.8 579,688.8 619,679.8 650,673.4 660,672 693,672 710,673.8 720,676.8 740,680.8 760,686.8 780,692.8 800,699.4 820,702.8 840,705.7 870,706.7 965,706.7 1000,709.3 1030,711.3 1108,711.7 1120,710.7 1140,706.7 1180,701.8 1220,696.8 1240,694.2 1254,693.8" fill="none" stroke="#ff0000" stroke-width="2"/>
</g>
<text x="9" y="636" font-size="9.8" fill="#000" stroke="#000" stroke-width="0.15" text-anchor="start" textLength="143" lengthAdjust="spacingAndGlyphs">MACD(12,26,9) -25.8743 -27.5078</text>
<g clip-path="url(#crsi)">
<line x1="6" y1="739.5" x2="1601" y2="739.5" stroke="#000" stroke-width="1" stroke-dasharray="3 3"/>
<line x1="6" y1="761.5" x2="1601" y2="761.5" stroke="#000" stroke-width="1" stroke-dasharray="3 3"/>
<line x1="6" y1="787.5" x2="1601" y2="787.5" stroke="#000" stroke-width="1" stroke-dasharray="3 3"/>
<polyline points="5,757.8 21,759.4 37,760 53,760.5 69,756 85,756 101,756 117,756 133,757.8 149,762 165,768 181,770.5 197,771 213,774.4 229,773.8 245,776.8 261,777 277,780 293,782 309,778.8 325,779 341,779 357,779 373,779.8 389,780.8 405,781 421,782.8 437,781.8 453,773.8 469,768.9 485,769.9 501,770 517,767.9 533,759.9 549,762.3 565,762 581,755.9 597,756 613,756 629,757.5 645,757.5 661,772.8 677,778.2 693,780.2 709,777.8 725,778 741,778 757,774.8 773,775 789,772.8 805,772.8 821,768.9 837,769 853,776.8 869,777 885,777 901,772.8 917,773.4 933,773.4 949,772.8 965,777 981,779.4 997,779.4 1013,779.4 1029,776.8 1045,778.8 1061,766.9 1077,767.5 1093,767.5 1109,767.5 1125,767.5 1141,760.3 1157,769.9 1173,768.9 1189,769 1205,769 1221,769.9 1237,768.5 1253,767.9" fill="none" stroke="#1e90ff" stroke-width="2"/>
</g>
<text x="9" y="736" font-size="9.8" fill="#000" stroke="#000" stroke-width="0.15" text-anchor="start" textLength="67.5" lengthAdjust="spacingAndGlyphs">RSI(14) 41.2451</text>
</svg>
<div id="tb"><svg width="1655" height="24" viewBox="0 0 1655 24" style="position:absolute;left:0;top:0" font-family="Liberation Sans, sans-serif">
<defs><pattern id="chk" width="2" height="2" patternUnits="userSpaceOnUse"><rect width="2" height="2" fill="#f4f4f4"/><rect width="1" height="1" fill="#e6e6e6"/><rect x="1" y="1" width="1" height="1" fill="#e6e6e6"/></pattern><linearGradient id="gold" x1="0" y1="0" x2="1" y2="1"><stop offset="0" stop-color="#f8e27a"/><stop offset="1" stop-color="#c89a1a"/></linearGradient><radialGradient id="redb" cx="0.45" cy="0.3" r="0.7"><stop offset="0" stop-color="#f0603a"/><stop offset="1" stop-color="#cc1a08"/></radialGradient></defs>
<rect width="1655" height="24" fill="#f0f0f0"/>
<g stroke="#111" stroke-width="1.05" fill="none" transform="translate(0,5)"><path d="M3 0.3 V1.3 M0.5 1.8 H5.6 M1.5 2.6 L2 4 M4.6 2.6 L4.1 4 M0.3 4.6 H5.8 M0.8 6.7 H5.4 M3 4.6 V11 M2.8 7.6 L0.4 10 M3.3 7.8 L5.4 9.4"/><path d="M10.6 0.6 L7 1.8 V6 Q7 9 6.2 11 M7 5.2 H11 M9.3 5.2 V11"/></g>
<g stroke="#111" stroke-width="1.05" fill="none" transform="translate(11.5,5)"><path d="M0.8 0.6 L2.2 2 M0.3 4.3 H2.2 V9.5 L3.6 8.2 M4.2 1.6 H11 M8 1.6 V10.2 Q8 11 6.6 10.8"/></g>
<g stroke="#111" stroke-width="1.05" fill="none" transform="translate(22.5,5)"><path d="M2.6 0.2 L3.6 1.4 M8.4 0.2 L7.4 1.4 M1.6 2.3 H9.4 V7 H1.6 Z M1.6 4.6 H9.4 M5.5 2.3 V11 M0.2 8.8 H10.8"/></g>
<g stroke="#111" stroke-width="1.05" fill="none" transform="translate(149.5,5)"><path d="M5.2 0 L4.4 1.6 M1.6 1.8 H9.4 V11 M1.6 1.8 V11 M1.6 4.8 H9.4 M1.6 7.8 H9.4 M1.6 10.6 H9.4"/></g>
<g stroke="#111" stroke-width="1.05" fill="none" transform="translate(161,5)"><path d="M0.8 1.4 H5 M0.2 4.2 H5.4 M2.6 4.4 L0.6 9.6 L5 8.6 M3.8 7 L5 9.6"/><path d="M6.2 3.6 H10.6 V10.4 Q10.6 11 9.4 10.8 M8.4 0.4 V4.4 Q8.2 8.8 5.8 10.8"/></g>
<g stroke="#111" stroke-width="1.05" fill="none" transform="translate(173,5)"><path d="M5.5 0 V1.6 M0.4 2 H10.6 M3.6 3.2 L1.4 5.4 M7.4 3.2 L9.6 5.4 M7.8 5.6 Q5.4 9.8 0.6 10.8 M3 5.8 Q5.6 9.8 10.4 10.8"/></g>
<g stroke="#111" stroke-width="1.05" fill="none" transform="translate(185,5)"><path d="M2.4 0.4 H8.4 V5 H2.4 Z M2.4 2.7 H8.4 M3.6 5.6 L0.8 8.2 M2.8 6.6 H10.2 Q10.2 11 8.4 10.8 M5 6.8 L2.2 10.8 M7.4 6.8 L5 10.6"/></g>
<g><polygon points="45.2,13 51.2,5.2 60.4,12.6 54,19.6" fill="#c08a18"/><polygon points="45.6,12.4 51.4,5.6 59.6,11.6 53.6,18.2" fill="url(#gold)" stroke="#a87414" stroke-width="0.7"/><path d="M46.5 14 L54 19.2 L60.2 12.4" fill="none" stroke="#f0d890" stroke-width="0.8"/></g>
<g><polygon points="75.2,5.5 77.5,4 85.5,4 86,6 86,15 75.2,15" fill="#1e9af0" stroke="#1670c0" stroke-width="0.7"/><polygon points="75.2,5.5 77.5,4 77.5,15 75.2,15" fill="#6cc4f8"/><rect x="79.5" y="8.2" width="5" height="1.3" fill="#e8f4ff"/><rect x="80.5" y="10.5" width="4" height="1" fill="#e8f4ff"/><path d="M73.8 19.4 Q72.6 16 75.8 15.6 Q76.8 12.6 80.2 13.4 Q82.6 11.2 85.4 13.6 Q88.8 13.8 88.6 16.4 Q89.8 17.6 88.6 19.4 Z" fill="#eef2f8" stroke="#6a88b8" stroke-width="0.9"/></g>
<g fill="none"><circle cx="109" cy="12" r="7.6" stroke="#9cc0d8" stroke-width="1.1"/><circle cx="109" cy="12" r="5.2" stroke="#6a9ed0" stroke-width="1.1"/><circle cx="109" cy="12" r="2.8" stroke="#3f7fd0" stroke-width="1.1"/><circle cx="109" cy="12" r="1.2" fill="#2a60c0"/><path d="M114 8 A7.6 7.6 0 0 1 110 19.5" stroke="#6cb06c" stroke-width="1.4"/><path d="M109.5 12 V19.5" stroke="#2a9a2a" stroke-width="1.5"/></g>
<g><polygon points="129,11 140,10 137,19 135,20" fill="#f2d84a" stroke="#c8a020" stroke-width="0.8"/><ellipse cx="135.5" cy="9.5" rx="7" ry="2.6" fill="#6ab4e4" stroke="#3a84b4" stroke-width="0.8"/><ellipse cx="135.5" cy="7" rx="3.6" ry="3" fill="#8cc8ee" stroke="#3a84b4" stroke-width="0.8"/><circle cx="140.3" cy="15.5" r="4.2" fill="#dd2a10"/><rect x="138.8" y="14" width="3" height="3" fill="#fff"/></g>
<rect x="204" y="0" width="1" height="24" fill="#a0a0a0"/><rect x="205" y="0" width="1" height="24" fill="#ffffff"/>
<rect x="208" y="2" width="3" height="1" fill="#9a9a9a"/>
<rect x="208" y="4" width="3" height="1" fill="#9a9a9a"/>
<rect x="208" y="6" width="3" height="1" fill="#9a9a9a"/>
<rect x="208" y="8" width="3" height="1" fill="#9a9a9a"/>
<rect x="208" y="10" width="3" height="1" fill="#9a9a9a"/>
<rect x="208" y="12" width="3" height="1" fill="#9a9a9a"/>
<rect x="208" y="14" width="3" height="1" fill="#9a9a9a"/>
<rect x="208" y="16" width="3" height="1" fill="#9a9a9a"/>
<rect x="208" y="18" width="3" height="1" fill="#9a9a9a"/>
<rect x="208" y="20" width="3" height="1" fill="#9a9a9a"/>
<g stroke="#505050" stroke-width="1.3" fill="none"><path d="M222.3 19.5 V6.5"/><path d="M220.3 17.5 H233.8"/></g><g fill="#505050"><polygon points="220.5,8.2 224.10000000000002,8.2 222.3,5.5"/><polygon points="232.8,15.7 232.8,19.3 235.60000000000002,17.5"/></g>
<path d="M228.5 7 V16 M226 15 H228.5 M228.5 8.2 H231" stroke="#1a9a1a" stroke-width="1.3" fill="none"/>
<rect x="242" y="0" width="25" height="22" fill="url(#chk)"/>
<rect x="242" y="0" width="25" height="1" fill="#a0a0a0"/><rect x="242" y="0" width="1" height="22" fill="#a0a0a0"/>
<rect x="242" y="22" width="26" height="1" fill="#ffffff"/><rect x="267" y="0" width="1" height="23" fill="#ffffff"/>
<g stroke="#505050" stroke-width="1.3" fill="none"><path d="M250.5 19.5 V6.5"/><path d="M248.5 17.5 H262.0"/></g><g fill="#505050"><polygon points="248.7,8.2 252.3,8.2 250.5,5.5"/><polygon points="261.0,15.7 261.0,19.3 263.8,17.5"/></g>
<rect x="254.5" y="6" width="4.5" height="8" fill="#5ee85e" stroke="#1a8a1a" stroke-width="1"/><path d="M256.7 4 V6 M256.7 14 V16" stroke="#1a8a1a" stroke-width="1.1"/>
<g stroke="#505050" stroke-width="1.3" fill="none"><path d="M278.4 19.5 V6.5"/><path d="M276.4 17.5 H289.9"/></g><g fill="#505050"><polygon points="276.59999999999997,8.2 280.2,8.2 278.4,5.5"/><polygon points="288.9,15.7 288.9,19.3 291.7,17.5"/></g>
<path d="M277 14.5 Q283 5 289 13.5" stroke="#2a9a2a" stroke-width="1.2" fill="none"/>
<rect x="299" y="1" width="1" height="21" fill="#a0a0a0"/>
<g><path d="M317.5 13.5 L323 19" stroke="#b08a10" stroke-width="3" stroke-linecap="butt"/><path d="M317.5 13.5 L323 19" stroke="#f0dc70" stroke-width="1.4"/><circle cx="314" cy="10" r="5.3" fill="#dff0fa" stroke="#2a78c8" stroke-width="1.2"/><path d="M311 10 H317 M314 7 V13" stroke="#3a80b0" stroke-width="1.6"/></g>
<g><path d="M345.5 13.5 L351 19" stroke="#b08a10" stroke-width="3" stroke-linecap="butt"/><path d="M345.5 13.5 L351 19" stroke="#f0dc70" stroke-width="1.4"/><circle cx="342" cy="10" r="5.3" fill="#dff0fa" stroke="#2a78c8" stroke-width="1.2"/><path d="M339 10 H345" stroke="#3a80b0" stroke-width="1.6"/></g>
<g><rect x="364" y="4" width="8" height="8" fill="#2a9a2a"/><rect x="372" y="4" width="8" height="8" fill="#2a5acc"/><rect x="364" y="12" width="8" height="8" fill="#2a5acc"/><rect x="372" y="12" width="8" height="8" fill="#2a9a2a"/><g fill="#fff"><rect x="365.5" y="7.5" width="5" height="3"/><rect x="373.5" y="7.5" width="5" height="3"/><rect x="365.5" y="15.5" width="5" height="3"/><rect x="373.5" y="15.5" width="5" height="3"/></g></g>
<rect x="389" y="1" width="1" height="21" fill="#a0a0a0"/>
<rect x="394" y="0" width="25" height="22" fill="url(#chk)"/>
<rect x="394" y="0" width="25" height="1" fill="#a0a0a0"/><rect x="394" y="0" width="1" height="22" fill="#a0a0a0"/>
<rect x="394" y="22" width="26" height="1" fill="#ffffff"/><rect x="419" y="0" width="1" height="23" fill="#ffffff"/>
<g stroke="#505050" stroke-width="1.3" fill="none"><path d="M402.7 19.5 V6.5"/><path d="M400.7 17.5 H413.7"/></g><g fill="#505050"><polygon points="400.9,8.2 404.5,8.2 402.7,5.5"/><polygon points="412.7,15.7 412.7,19.3 415.5,17.5"/></g>
<polygon points="407,8 411,11.5 407,15" fill="#40c040" stroke="#1a8a1a" stroke-width="0.9"/>
<rect x="422" y="0" width="25" height="22" fill="url(#chk)"/>
<rect x="422" y="0" width="25" height="1" fill="#a0a0a0"/><rect x="422" y="0" width="1" height="22" fill="#a0a0a0"/>
<rect x="422" y="22" width="26" height="1" fill="#ffffff"/><rect x="447" y="0" width="1" height="23" fill="#ffffff"/>
<g stroke="#505050" stroke-width="1.3" fill="none"><path d="M430.6 19.5 V6.5"/><path d="M428.6 17.5 H441.6"/></g><g fill="#505050"><polygon points="428.8,8.2 432.40000000000003,8.2 430.6,5.5"/><polygon points="440.6,15.7 440.6,19.3 443.40000000000003,17.5"/></g>
<path d="M436.5 6 V16" stroke="#2070b0" stroke-width="1.2"/><path d="M441.5 11.5 H438 M440 9.5 L437.8 11.5 L440 13.5" stroke="#e05010" stroke-width="1.4" fill="none"/>
<rect x="451" y="1" width="1" height="21" fill="#a0a0a0"/>
<g><path d="M461.5 4.5 H469 L471.5 7 V17.5 H461.5 Z" fill="#fafafa" stroke="#707070" stroke-width="0.9"/><path d="M469.3 10.3 h3.4 v3.8 h3.8 v3.4 h-3.8 v3.8 h-3.4 v-3.8 h-3.8 v-3.4 h3.8 z" fill="#2ee02e" stroke="#109010" stroke-width="0.9"/></g>
<polygon points="483.0,11 488.0,11 485.5,14" fill="#000"/>
<g><defs><radialGradient id="clk" cx="0.4" cy="0.35" r="0.7"><stop offset="0" stop-color="#5ab0f8"/><stop offset="1" stop-color="#0a50b0"/></radialGradient></defs><circle cx="507.2" cy="12" r="7.6" fill="url(#clk)"/><circle cx="507.2" cy="12" r="5.4" fill="#f6f6f6"/><g fill="#999"><rect x="506.8" y="7.2" width="0.8" height="0.8"/><rect x="506.8" y="16" width="0.8" height="0.8"/><rect x="502.4" y="11.6" width="0.8" height="0.8"/><rect x="511.2" y="11.6" width="0.8" height="0.8"/></g><path d="M506.3 8 V12.2 H509.8" stroke="#111" stroke-width="1.2" fill="none"/><path d="M505.5 14.5 H508.5" stroke="#7ab0e8" stroke-width="0.8"/></g>
<polygon points="522.0,11 527.0,11 524.5,14" fill="#000"/>
<g><rect x="538.5" y="5.5" width="15.5" height="13.5" fill="#fff" stroke="#3a7ac8" stroke-width="1"/><rect x="538.5" y="5.5" width="15.5" height="2" fill="#5a9ad8"/><path d="M539 13.5 H554" stroke="#3a7ac8" stroke-width="0.9"/><path d="M540.5 11.5 L543 10.5 L545 11 L547 9.5 L549 10.5 L552 9.5" stroke="#a02010" stroke-width="1" fill="none"/><path d="M540.5 16.5 L543 15.5 L545 16 L548 14 L552 16.5" stroke="#10901a" stroke-width="1" fill="none"/></g>
<polygon points="561.0,11 566.0,11 563.5,14" fill="#000"/>
<rect x="572" y="0" width="1" height="24" fill="#a0a0a0"/><rect x="573" y="0" width="1" height="24" fill="#ffffff"/>
<rect x="576" y="2" width="3" height="1" fill="#9a9a9a"/>
<rect x="576" y="4" width="3" height="1" fill="#9a9a9a"/>
<rect x="576" y="6" width="3" height="1" fill="#9a9a9a"/>
<rect x="576" y="8" width="3" height="1" fill="#9a9a9a"/>
<rect x="576" y="10" width="3" height="1" fill="#9a9a9a"/>
<rect x="576" y="12" width="3" height="1" fill="#9a9a9a"/>
<rect x="576" y="14" width="3" height="1" fill="#9a9a9a"/>
<rect x="576" y="16" width="3" height="1" fill="#9a9a9a"/>
<rect x="576" y="18" width="3" height="1" fill="#9a9a9a"/>
<rect x="576" y="20" width="3" height="1" fill="#9a9a9a"/>
<rect x="582" y="0" width="25" height="22" fill="url(#chk)"/>
<rect x="582" y="0" width="25" height="1" fill="#a0a0a0"/><rect x="582" y="0" width="1" height="22" fill="#a0a0a0"/>
<rect x="582" y="22" width="26" height="1" fill="#ffffff"/><rect x="607" y="0" width="1" height="23" fill="#ffffff"/>
<polygon points="590,5 598,12.3 594.5,12.5 596.5,17.6 595,18.5 592.6,13.5 590,16" fill="#505050"/>
<path d="M622.5 5 V11.6 M622.5 13.4 V20 M615 12.5 H621.6 M623.4 12.5 H630" stroke="#444" stroke-width="1.2"/>
<rect x="639" y="1" width="1" height="21" fill="#a0a0a0"/>
<path d="M656.5 6 V19" stroke="#444" stroke-width="1.2"/>
<path d="M679 12.5 H691" stroke="#444" stroke-width="1.2"/>
<path d="M707 19 L719 6.5" stroke="#444" stroke-width="1.2"/>
<g stroke="#333" stroke-width="1" fill="none"><path d="M733.5 13.5 L740.5 6 M735 18.5 L747 10 M738 19 L747 10"/><path d="M735.5 15 L737 11 M738.5 13 L740 9 M741.5 11 L744 5"/></g><text x="743.5" y="20.5" font-size="6.5" font-weight="bold" fill="#333">E</text>
<g fill="#333"><rect x="762" y="5" width="1" height="1"/><rect x="764" y="5" width="1" height="1"/><rect x="766" y="5" width="1" height="1"/><rect x="768" y="5" width="1" height="1"/><rect x="770" y="5" width="1" height="1"/><rect x="772" y="5" width="1" height="1"/><rect x="774" y="5" width="1" height="1"/><rect x="762" y="8" width="1" height="1"/><rect x="764" y="8" width="1" height="1"/><rect x="766" y="8" width="1" height="1"/><rect x="768" y="8" width="1" height="1"/><rect x="770" y="8" width="1" height="1"/><rect x="772" y="8" width="1" height="1"/><rect x="774" y="8" width="1" height="1"/><rect x="762" y="12" width="1" height="1"/><rect x="764" y="12" width="1" height="1"/><rect x="766" y="12" width="1" height="1"/><rect x="768" y="12" width="1" height="1"/><rect x="770" y="12" width="1" height="1"/><rect x="772" y="12" width="1" height="1"/><rect x="774" y="12" width="1" height="1"/><rect x="762" y="16" width="1" height="1"/><rect x="764" y="16" width="1" height="1"/><rect x="766" y="16" width="1" height="1"/><rect x="768" y="16" width="1" height="1"/><rect x="770" y="16" width="1" height="1"/><rect x="772" y="16" width="1" height="1"/><rect x="774" y="16" width="1" height="1"/></g><text x="771.5" y="21" font-size="6.5" font-weight="bold" fill="#333">F</text>
<text x="792.5" y="17" font-size="11" fill="#444">A</text>
<g><rect x="819.5" y="6.5" width="11.5" height="12" fill="none" stroke="#555" stroke-width="1" stroke-dasharray="1 1"/><path d="M822 9.3 H828.5 M825.2 9.3 V16" stroke="#555" stroke-width="1.5"/></g>
<g fill="#444"><polygon points="846,10 849.5,6 853,10"/><polygon points="853.5,15 857,19 860.5,15"/><path d="M849 13.5 L851 15.5 L855 10.5" stroke="#444" stroke-width="1.3" fill="none"/></g>
<polygon points="867.0,11 872.0,11 869.5,14" fill="#000"/>
<rect x="878" y="0" width="1" height="24" fill="#a0a0a0"/><rect x="879" y="0" width="1" height="24" fill="#ffffff"/>
<rect x="882" y="2" width="3" height="1" fill="#9a9a9a"/>
<rect x="882" y="4" width="3" height="1" fill="#9a9a9a"/>
<rect x="882" y="6" width="3" height="1" fill="#9a9a9a"/>
<rect x="882" y="8" width="3" height="1" fill="#9a9a9a"/>
<rect x="882" y="10" width="3" height="1" fill="#9a9a9a"/>
<rect x="882" y="12" width="3" height="1" fill="#9a9a9a"/>
<rect x="882" y="14" width="3" height="1" fill="#9a9a9a"/>
<rect x="882" y="16" width="3" height="1" fill="#9a9a9a"/>
<rect x="882" y="18" width="3" height="1" fill="#9a9a9a"/>
<rect x="882" y="20" width="3" height="1" fill="#9a9a9a"/>
<rect x="1028" y="0" width="25" height="22" fill="url(#chk)"/>
<rect x="1028" y="0" width="25" height="1" fill="#a0a0a0"/><rect x="1028" y="0" width="1" height="22" fill="#a0a0a0"/>
<rect x="1028" y="22" width="26" height="1" fill="#ffffff"/><rect x="1053" y="0" width="1" height="23" fill="#ffffff"/>
<text x="893.5" y="16" font-size="9.9" fill="#333" stroke="#333" stroke-width="0.05" textLength="12.5" lengthAdjust="spacingAndGlyphs">M1</text>
<text x="922" y="16" font-size="9.9" fill="#333" stroke="#333" stroke-width="0.05" textLength="12.5" lengthAdjust="spacingAndGlyphs">M5</text>
<text x="947.5" y="16" font-size="9.9" fill="#333" stroke="#333" stroke-width="0.05" textLength="17.8" lengthAdjust="spacingAndGlyphs">M15</text>
<text x="975.5" y="16" font-size="9.9" fill="#333" stroke="#333" stroke-width="0.05" textLength="17.8" lengthAdjust="spacingAndGlyphs">M30</text>
<text x="1006.5" y="16" font-size="9.9" fill="#333" stroke="#333" stroke-width="0.05" textLength="11.8" lengthAdjust="spacingAndGlyphs">H1</text>
<text x="1033.5" y="16" font-size="9.9" fill="#333" stroke="#333" stroke-width="0.05" textLength="12.6" lengthAdjust="spacingAndGlyphs">H4</text>
<text x="1062.5" y="16" font-size="9.9" fill="#333" stroke="#333" stroke-width="0.05" textLength="12" lengthAdjust="spacingAndGlyphs">D1</text>
<text x="1090" y="16" font-size="9.9" fill="#333" stroke="#333" stroke-width="0.05" textLength="14" lengthAdjust="spacingAndGlyphs">W1</text>
<text x="1116.5" y="16" font-size="9.9" fill="#333" stroke="#333" stroke-width="0.05" textLength="14.6" lengthAdjust="spacingAndGlyphs">MN</text>
<rect x="1139" y="0" width="1" height="24" fill="#a0a0a0"/><rect x="1140" y="0" width="1" height="24" fill="#ffffff"/>
<g><circle cx="1609.5" cy="9.3" r="3.8" fill="#f4f4ff" stroke="#2060d0" stroke-width="1.3"/><path d="M1606.8 12 L1602.8 16.5" stroke="#2060d0" stroke-width="2.2"/></g>
<g><ellipse cx="1631" cy="14.5" rx="4.8" ry="4" fill="#e6e6ea" stroke="#a0a0a0" stroke-width="0.9"/><path d="M1629 18 L1629.5 20.5 L1632 18.3" fill="#e0e0e0" stroke="#a0a0a0" stroke-width="0.8"/><circle cx="1640.5" cy="9.3" r="8.1" fill="url(#redb)"/><text x="1640.6" y="13.9" font-size="12" font-weight="bold" fill="#fff" text-anchor="middle" font-family="Liberation Serif, serif">1</text></g>
</svg></div>
</body></html>
